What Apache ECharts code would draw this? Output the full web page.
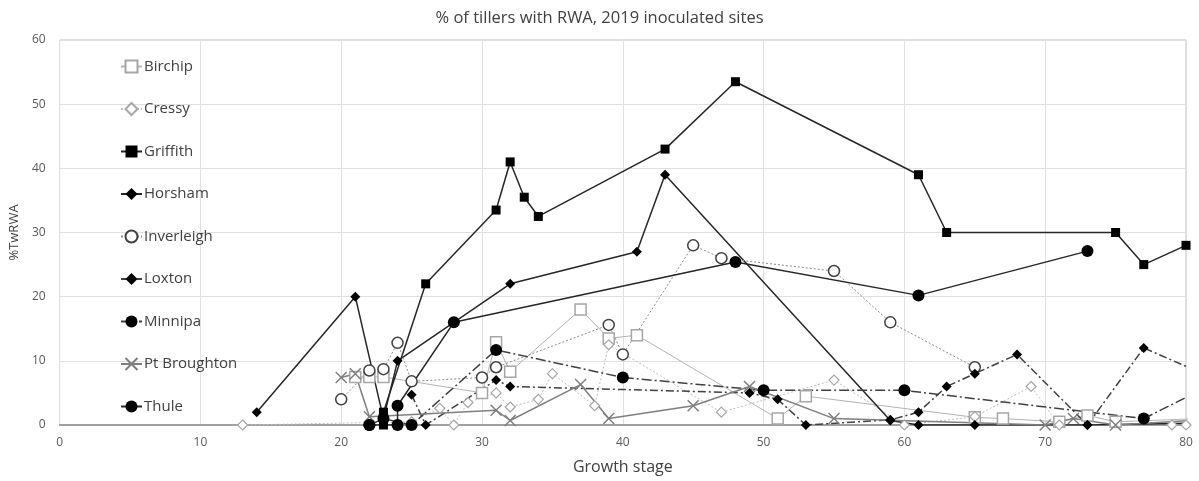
<!DOCTYPE html>
<html>
<head>
<meta charset="utf-8">
<script src="https://cdn.jsdelivr.net/npm/echarts@6/dist/echarts.min.js"></script>
<style>html,body{margin:0;padding:0;background:#fff}#c{width:1199px;height:481px}</style>
</head>
<body>
<div id="c"></div>
<script>
const title = "% of tillers with RWA, 2019 inoculated sites";
const xName = "Growth stage";
const yName = "%TwRWA";
const seriesNames = ["Birchip","Cressy","Griffith","Horsham","Inverleigh","Loxton","Minnipa","Pt Broughton","Thule"];

const birchip = [[21,7.5],[22,7.5],[23,7.5],[30,5],[31,12.9],[32,8.3],[37,18],[39,13.5],[41,14],[51,1],[53,4.5],[65,1.2],[67,1],[71,0.5],[73,1.5],[75,0.5],[81,1]];
const cressy = [[13,0],[25,0.5],[27,2.6],[28,0],[29,3.5],[31,5],[32,2.8],[34,4],[35,8],[38,3],[39,12.5],[47,2],[55,7],[60,0],[65,1.3],[69,6],[71,0],[79,0],[80,0]];
const griffith = [[23,0],[23,2],[26,22],[31,33.5],[32,41],[33,35.5],[34,32.5],[43,43],[48,53.5],[61,39],[63,30],[75,30],[77,25],[80,28]];
const horsham = [[14,2],[21,20],[23,1],[24,10],[32,22],[41,27],[43,39],[59,0.7],[61,0],[65,0],[73,0],[81,0.3]];
const inverleigh = [[20,4],[22,8.5],[23,8.7],[24,12.8],[25,6.8],[30,7.4],[31,9],[39,15.6],[40,11],[45,28],[47,26],[55,24],[59,16],[65,9]];
const loxton = [[25,4.7],[26,0],[31,7],[32,6],[49,5],[51,4],[53,0],[59,0.8],[61,2],[63,6],[65,8],[68,11],[73,0],[77,12],[81,8.2]];
const minnipa = [[22,0],[23,1],[25,0],[31,11.7],[40,7.4],[50,5.4],[60,5.4],[77,1],[81,5.4]];
const ptBroughton = [[20,7.4],[21,8],[22,1.3],[31,2.3],[32,0.7],[37,6.3],[39,1],[45,3],[49,6],[55,1],[70,0],[72,1],[75,0],[81,0.8]];
const thule = [[22,0],[24,0],[24,3],[28,16],[48,25.4],[61,20.2],[73,27.1]];

const xTicks = {min:0, max:80, interval:10};
const yTicks = {min:0, max:60, interval:10};

const xPath = 'path://M0,0 L10,10 M10,0 L0,10';

function mk(name, data, o) {
  return {
    name: name, type: 'line', data: data, clip: true,
    symbol: o.symbol, symbolSize: o.size,
    lineStyle: {color: o.lineColor, width: o.lineWidth, type: o.lineType},
    itemStyle: {color: o.fill, borderColor: o.stroke, borderWidth: o.borderWidth},
    emphasis: {disabled: true}, animation: false
  };
}

const chart = echarts.init(document.getElementById('c'), null, {renderer:'canvas'});
chart.setOption({
  backgroundColor: '#fff',
  animation: false,
  title: {text: title, left: 'center', top: 5,
    textStyle: {fontFamily: 'Open Sans', fontSize: 16.5, fontWeight: 'normal', color: '#404040'}},
  grid: {left: 58, right: 13, top: 40, bottom: 56, show: true, borderColor: '#bfbfbf', borderWidth: 1},
  legend: {
    orient: 'vertical', left: 115, top: 54, itemGap: 27.5, itemWidth: 21, itemHeight: 15,
    textStyle: {fontFamily: 'Open Sans', fontSize: 15, color: '#404040', padding:[0,0,0,-3]},
    data: seriesNames
  },
  xAxis: {
    type: 'value', min: xTicks.min, max: xTicks.max, interval: xTicks.interval,
    name: xName, nameLocation: 'middle', nameGap: 34,
    nameTextStyle: {fontFamily: 'Open Sans', fontSize: 16, color: '#404040'},
    axisLine: {show: true, lineStyle: {color: '#8c8c8c', width: 1.5}},
    axisTick: {show: false},
    axisLabel: {fontFamily: 'Open Sans', fontSize: 12, color: '#595959', margin: 12},
    splitLine: {show: true, lineStyle: {color: '#e0e0e0'}}
  },
  yAxis: {
    type: 'value', min: yTicks.min, max: yTicks.max, interval: yTicks.interval,
    name: yName, nameLocation: 'middle', nameGap: 33,
    nameTextStyle: {fontFamily: 'Open Sans', fontSize: 13, color: '#404040'},
    axisLine: {show: false}, axisTick: {show: false},
    axisLabel: {fontFamily: 'Open Sans', fontSize: 12, color: '#595959', margin: 14},
    splitLine: {show: true, lineStyle: {color: '#e0e0e0'}}
  },
  series: [
    mk('Birchip', birchip, {symbol:'rect', size:11, lineColor:'#b3b3b3', lineWidth:1, lineType:'solid', fill:'#fff', stroke:'#a6a6a6', borderWidth:1.5}),
    mk('Cressy', cressy, {symbol:'diamond', size:10, lineColor:'#bdbdbd', lineWidth:1, lineType:[2,2], fill:'#fff', stroke:'#a6a6a6', borderWidth:1.2}),
    mk('Griffith', griffith, {symbol:'rect', size:9, lineColor:'#262626', lineWidth:1.5, lineType:'solid', fill:'#000', stroke:'#000', borderWidth:0}),
    mk('Horsham', horsham, {symbol:'diamond', size:10, lineColor:'#262626', lineWidth:1.5, lineType:'solid', fill:'#000', stroke:'#000', borderWidth:0}),
    mk('Inverleigh', inverleigh, {symbol:'circle', size:11, lineColor:'#8c8c8c', lineWidth:1, lineType:[2,2], fill:'#fff', stroke:'#404040', borderWidth:1.5}),
    mk('Loxton', loxton, {symbol:'diamond', size:10, lineColor:'#404040', lineWidth:1.5, lineType:[8,3,2,3], fill:'#000', stroke:'#000', borderWidth:0}),
    mk('Minnipa', minnipa, {symbol:'circle', size:12, lineColor:'#404040', lineWidth:1.5, lineType:[10,3,2,3], fill:'#000', stroke:'#000', borderWidth:0}),
    mk('Pt Broughton', ptBroughton, {symbol:xPath, size:11, lineColor:'#7f7f7f', lineWidth:1.5, lineType:'solid', fill:'rgba(0,0,0,0)', stroke:'#7f7f7f', borderWidth:1.5}),
    mk('Thule', thule, {symbol:'circle', size:12, lineColor:'#262626', lineWidth:1.5, lineType:'solid', fill:'#000', stroke:'#000', borderWidth:0})
  ]
});
</script>
</body>
</html>
